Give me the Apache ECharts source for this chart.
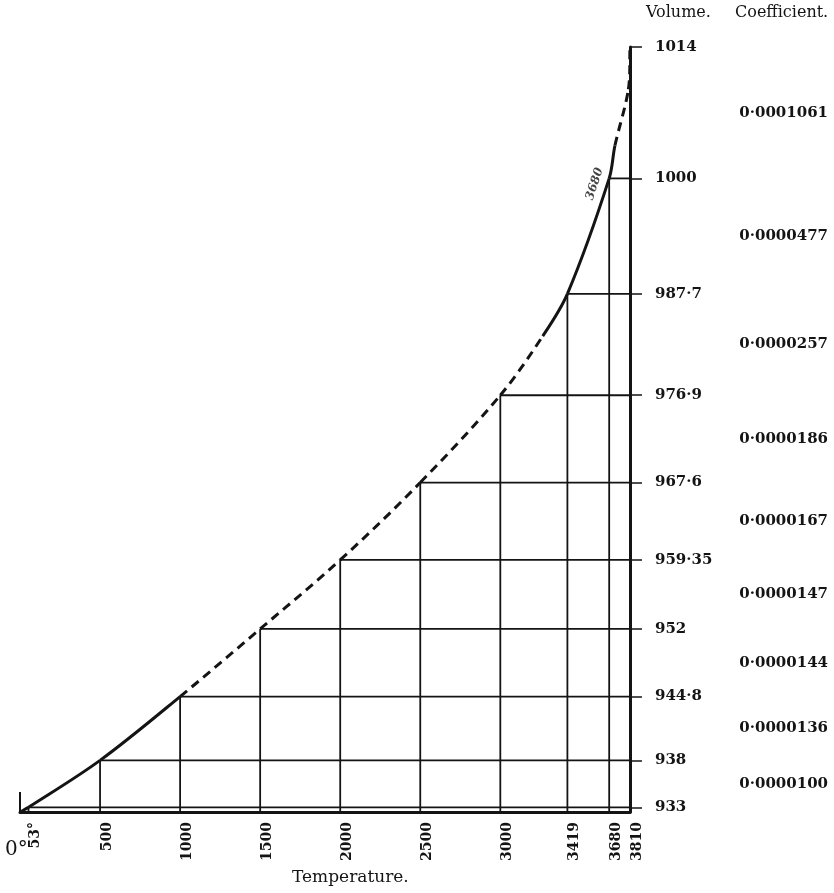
<!DOCTYPE html>
<html>
<head>
<meta charset="utf-8">
<script src="https://cdn.jsdelivr.net/npm/echarts@6/dist/echarts.min.js"></script>
<style>
  html, body { margin: 0; padding: 0; background: #fff; }
  #chart { width: 834px; height: 893px; }
</style>
</head>
<body>
<div id="chart"></div>
<script>
// temperature ticks along the bottom, volume at each one, coefficient between them
var tempTicks = [53, 500, 1000, 1500, 2000, 2500, 3000, 3419, 3680, 3810]
var tempLabels = ['53°', '500', '1000', '1500', '2000', '2500', '3000', '3419', '3680', '3810']
var volumes = [933, 938, 944.8, 952, 959.35, 967.6, 976.9, 987.7, 1000, 1014]
var coefficients = ['0·0000100', '0·0000136', '0·0000144', '0·0000147', '0·0000167',
  '0·0000186', '0·0000257', '0·0000477', '0·0001061']

var curveTemps = [0, 53, 500, 1000, 1500, 2000, 2500, 3000, 3265, 3419, 3680, 3716, 3800, 3810]
var curveVolumes = [932.5, 933, 938, 944.8, 952, 959.35, 967.6, 976.9, 983.2, 987.7, 1000, 1003.5, 1009.5, 1014]
var curveDashed = [false, false, false, true, true, true, true, true, false, false, false, true, true]

var yMin = 932.5
var xMax = 3810
var ink = '#141414'
var serif = 'DejaVu Serif'

var chartDom = document.getElementById('chart')
var myChart = echarts.init(chartDom)

var mids = []
for (var i = 0; i < volumes.length - 1; i++) mids.push((volumes[i] + volumes[i + 1]) / 2)

var steps = []
for (var j = 0; j < tempTicks.length - 1; j++) steps.push([tempTicks[j], volumes[j]])

var curvePts = curveTemps.map(function (t, k) { return [t, curveVolumes[k]] })

// one bezier piece per pair of points, tangents from the neighbours (chord-length)
function renderCurve (params, api) {
  var k = params.dataIndex
  var n = curvePts.length
  var P = function (idx) {
    idx = Math.max(0, Math.min(n - 1, idx))
    return api.coord(curvePts[idx])
  }
  var dist = function (a, b) { return Math.hypot(b[0] - a[0], b[1] - a[1]) || 1 }
  var p0 = P(k - 1), p1 = P(k), p2 = P(k + 1), p3 = P(k + 2)
  var d12 = dist(p1, p2)
  var chord = [(p2[0] - p1[0]) / d12, (p2[1] - p1[1]) / d12]
  function tangent (a, b, c) {
    var s = dist(a, b) + dist(b, c)
    return [(c[0] - a[0]) / s, (c[1] - a[1]) / s]
  }
  var t1 = k === 0 ? chord : tangent(p0, p1, p2)
  var t2 = k + 1 === n - 1 ? chord : tangent(p1, p2, p3)
  return {
    type: 'bezierCurve',
    shape: {
      x1: p1[0], y1: p1[1],
      x2: p2[0], y2: p2[1],
      cpx1: p1[0] + t1[0] * d12 / 3, cpy1: p1[1] + t1[1] * d12 / 3,
      cpx2: p2[0] - t2[0] * d12 / 3, cpy2: p2[1] - t2[1] * d12 / 3
    },
    style: {
      stroke: ink,
      fill: null,
      lineWidth: 3,
      lineDash: curveDashed[k] ? [9, 6] : null
    }
  }
}

var option = {
  animation: false,
  backgroundColor: '#fff',
  grid: { left: 20, right: 204, top: 47, bottom: 81 },
  xAxis: {
    type: 'value',
    min: 0,
    max: xMax,
    axisLine: { onZero: false, lineStyle: { color: ink, width: 3 } },
    axisTick: { show: true, inside: true, length: 20, customValues: [0], lineStyle: { color: ink, width: 2 } },
    axisLabel: {
      customValues: tempTicks,
      rotate: 90,
      margin: 10,
      verticalAlign: 'top',
      color: ink,
      fontFamily: serif,
      fontWeight: 'bold',
      fontSize: 14,
      formatter: function (v) {
        return tempLabels[tempTicks.indexOf(v)]
      }
    },
    splitLine: { show: false }
  },
  yAxis: [{
    type: 'value',
    position: 'right',
    min: yMin,
    max: 1014,
    axisLine: { show: true, onZero: false, lineStyle: { color: ink, width: 3 } },
    axisTick: { show: true, customValues: volumes, length: 12, lineStyle: { color: ink, width: 1.5 } },
    axisLabel: {
      customValues: volumes,
      margin: 25,
      color: ink,
      fontFamily: serif,
      fontWeight: 'bold',
      fontSize: 15,
      formatter: function (v) {
        return String(v).replace('.', '·')
      }
    },
    splitLine: { show: false }
  }, {
    type: 'value',
    position: 'right',
    offset: 190,
    min: yMin,
    max: 1014,
    axisLine: { show: false },
    axisTick: { show: false },
    axisLabel: {
      customValues: mids,
      margin: 8,
      align: 'right',
      color: ink,
      fontFamily: serif,
      fontWeight: 'bold',
      fontSize: 15,
      formatter: function (v) {
        return coefficients[mids.indexOf(v)]
      }
    },
    splitLine: { show: false }
  }],
  graphic: [
    { type: 'text', left: 646, top: 5, style: { text: 'Volume.', font: '16px "DejaVu Serif"', fill: ink } },
    { type: 'text', left: 735, top: 5, style: { text: 'Coefficient.', font: '16px "DejaVu Serif"', fill: ink } },
    { type: 'text', left: 5, top: 840, style: { text: '0°', font: '20px "DejaVu Serif"', fill: ink } },
    { type: 'text', left: 292, top: 869, style: { text: 'Temperature.', font: '17px "DejaVu Serif"', fill: ink } }
  ],
  series: [
    {
      // the staircase of verticals and horizontals out to the volume scale
      type: 'custom',
      silent: true,
      z: 3,
      data: steps,
      renderItem: function (params, api) {
        var t = api.value(0)
        var v = api.value(1)
        var p = api.coord([t, v])
        var b = api.coord([t, yMin])
        var r = api.coord([xMax, v])
        var st = { stroke: ink, lineWidth: 1.8 }
        return {
          type: 'group',
          children: [
            { type: 'line', shape: { x1: b[0], y1: b[1], x2: p[0], y2: p[1] }, style: st },
            { type: 'line', shape: { x1: p[0], y1: p[1], x2: r[0], y2: r[1] }, style: st }
          ]
        }
      }
    },
    {
      type: 'custom',
      silent: true,
      z: 5,
      data: curvePts.slice(0, curvePts.length - 1),
      renderItem: renderCurve
    },
    {
      type: 'scatter',
      silent: true,
      z: 6,
      symbolSize: 1,
      itemStyle: { color: 'rgba(0,0,0,0)' },
      data: [[tempTicks[8], volumes[8]]],
      label: {
        show: true,
        position: [-14, 6],
        rotate: 72,
        align: 'center',
        verticalAlign: 'middle',
        fontFamily: serif,
        fontStyle: 'italic',
        fontWeight: 'bold',
        fontSize: 12,
        color: ink,
        formatter: function (p) {
          return String(p.value[0])
        }
      }
    }
  ]
}

myChart.setOption(option)
</script>
</body>
</html>
